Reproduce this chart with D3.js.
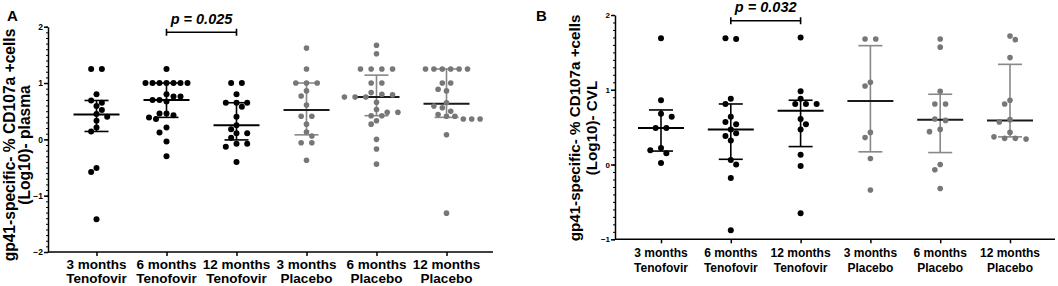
<!DOCTYPE html>
<html>
<head>
<meta charset="utf-8">
<script src="https://cdn.jsdelivr.net/npm/d3@7"></script>
<style>
body { margin: 0; background: #fff; }
svg { display: block; font-family: "Liberation Sans", Arial, sans-serif; font-weight: bold; }
</style>
</head>
<body>
<svg id="chart" width="1058" height="286"></svg>
<script>
"use strict";

// categories
const monthLabels = ["3 months", "6 months", "12 months", "3 months", "6 months", "12 months"];
const armLabels = ["Tenofovir", "Tenofovir", "Tenofovir", "Placebo", "Placebo", "Placebo"];
const isPlacebo = [false, false, false, true, true, true];

// panel A - plasma (log10 % CD107a+ cells)
const plasma3mTen = [1.25, 1.25, 0.80, 0.69, 0.65, 0.59, 0.52, 0.45, 0.40, 0.33, 0.21, 0.14, -0.51, -0.58, -1.42];
const plasma6mTen = [1.25, 1.00, 1.00, 1.00, 1.00, 1.00, 1.00, 1.00, 0.80, 0.76, 0.76, 0.70, 0.70, 0.67,
                     0.46, 0.46, 0.43, 0.39, 0.36, 0.21, 0.12, -0.04, -0.30];
const plasma12mTen = [1.00, 1.00, 0.80, 0.65, 0.65, 0.65, 0.58, 0.40, 0.25, 0.18, 0.11, 0.11, 0.03,
                      -0.08, -0.08, -0.13, -0.40];
const plasma3mPla = [1.62, 1.25, 1.00, 1.00, 1.00, 0.86, 0.77, 0.61, 0.41, 0.41, 0.27, 0.13, 0.06,
                     -0.06, -0.06, -0.37];
const plasma6mPla = [1.67, 1.52, 1.25, 1.25, 1.25, 1.25, 1.00, 1.00, 0.83, 0.80, 0.79, 0.75, 0.75, 0.75,
                     0.66, 0.53, 0.48, 0.48, 0.42, 0.42, 0.33, 0.27, 0.00, -0.17, -0.44];
const plasma12mPla = [1.25, 1.25, 1.25, 1.25, 1.25, 1.25, 1.00, 1.00, 0.89, 0.86, 0.65, 0.59, 0.56,
                      0.50, 0.44, 0.41, 0.41, 0.36, 0.36, 0.36, 0.08, -1.31];
const plasmaMedian = [0.44, 0.70, 0.25, 0.52, 0.75, 0.63];
const plasmaQ1 = [0.14, 0.39, -0.01, 0.08, 0.42, 0.39];
const plasmaQ3 = [0.69, 1.00, 0.65, 1.00, 1.14, 1.25];

// panel B - CVL
const cvl3mTen = [1.69, 0.86, 0.68, 0.64, 0.49, 0.49, 0.22, 0.19, 0.15, 0.02];
const cvl6mTen = [1.69, 1.68, 0.88, 0.81, 0.64, 0.57, 0.54, 0.47, 0.42, 0.38, 0.32, 0.06, 0.00, -0.18, -0.88];
const cvl12mTen = [1.70, 0.98, 0.88, 0.81, 0.81, 0.81, 0.61, 0.54, 0.47, 0.13, -0.02, -0.65];
const cvl3mPla = [1.68, 1.68, 1.10, 1.05, 0.43, 0.36, 0.08, -0.34];
const cvl6mPla = [1.68, 1.57, 0.98, 0.81, 0.81, 0.61, 0.59, 0.47, 0.44, 0.00, -0.07, -0.32];
const cvl12mPla = [1.72, 1.67, 1.43, 0.86, 0.81, 0.60, 0.57, 0.43, 0.37, 0.35, 0.35, 0.34];
const cvlMedian = [0.49, 0.47, 0.72, 0.85, 0.60, 0.59];
const cvlQ1 = [0.18, 0.07, 0.24, 0.17, 0.16, 0.37];
const cvlQ3 = [0.73, 0.81, 0.86, 1.59, 0.94, 1.34];

const panels = [
    {
        letter: "A", letterX: 7,
        values: [plasma3mTen, plasma6mTen, plasma12mTen, plasma3mPla, plasma6mPla, plasma12mPla],
        median: plasmaMedian, q1: plasmaQ1, q3: plasmaQ3,
        yTicks: [-2, -1, 0, 1, 2], yDomain: [-2, 2],
        left: 48, right: 493, top: 26.7, bottom: 252,
        firstX: 96.5, lastX: 446.5,
        title: ["gp41-specific- % CD107a +cells", "(Log10)- plasma"],
        titleX: [14.5, 30], titleY: 145, titleSize: 15.6, labelSize: 13.5, tickSize: 8.5,
        labelY: 269, labelGap: 14,
        pText: "p = 0.025", pY: 24, bracketY: 32.3, pSize: 14.5
    },
    {
        letter: "B", letterX: 536,
        values: [cvl3mTen, cvl6mTen, cvl12mTen, cvl3mPla, cvl6mPla, cvl12mPla],
        median: cvlMedian, q1: cvlQ1, q3: cvlQ3,
        yTicks: [-1, 0, 1, 2], yDomain: [-1, 2],
        left: 615, right: 1055, top: 15, bottom: 239.3,
        firstX: 661, lastX: 1010,
        title: ["gp41-specific- % CD107a +cells", "(Log10)- CVL"],
        titleX: [580, 597], titleY: 128, titleSize: 15.2, labelSize: 12, tickSize: 8,
        labelY: 257, labelGap: 14.5,
        pText: "p = 0.032", pY: 11.7, bracketY: 20.7, pSize: 14.5
    }
];

const svg = d3.select("#chart");

// simple beeswarm: tied values form symmetric rows, rows shift sideways to avoid overlap
function swarm(values, yScale, cx) {
    const sorted = values.slice().sort((a, b) => b - a);
    const rows = [];
    sorted.forEach(v => {
        const last = rows[rows.length - 1];
        if (last && Math.abs(yScale(last[0]) - yScale(v)) < 2) last.push(v);
        else rows.push([v]);
    });
    const maxRow = d3.max(rows, r => r.length);
    const step = maxRow > 1 ? Math.min(10.7, 42 / (maxRow - 1)) : 10.7;
    const half = step / 2;
    const minDist = 6.3;
    const placed = [];
    rows.forEach((row, ri) => {
        for (let k = 0; k < 60; k++) {
            const side = (k % 2 === 1) === (ri % 2 === 0) ? -1 : 1;
            const c = k === 0 ? 0 : Math.ceil(k / 2) * side;
            const pts = row.map((v, i) => ({
                v: v,
                x: cx + c * half + (i - (row.length - 1) / 2) * step,
                y: yScale(v)
            }));
            const ok = pts.every(p => placed.every(q => Math.hypot(p.x - q.x, p.y - q.y) >= minDist));
            if (ok) { placed.push(...pts); break; }
        }
    });
    return placed;
}

panels.forEach(function(p) {
    const g = svg.append("g");
    const y = d3.scaleLinear().domain(p.yDomain).range([p.bottom, p.top]);
    const x = d3.scalePoint().domain(d3.range(6)).range([p.firstX, p.lastX]);

    // minor y ticks
    const minor = d3.range(p.yDomain[0] * 10, p.yDomain[1] * 10 + 1).map(d => d / 10);
    g.append("g")
        .attr("transform", `translate(${p.left},0)`)
        .call(d3.axisLeft(y).tickValues(minor).tickSize(2).tickFormat(""))
        .call(a => a.select(".domain").remove())
        .selectAll("line").attr("stroke", "#000").attr("stroke-width", 1);

    // major y axis
    const yAxis = g.append("g")
        .attr("transform", `translate(${p.left},0)`)
        .call(d3.axisLeft(y).tickValues(p.yTicks).tickSize(4).tickSizeOuter(0).tickFormat(d3.format("d")));
    yAxis.select(".domain").attr("stroke", "#000").attr("stroke-width", 1.5);
    yAxis.selectAll(".tick line").attr("stroke", "#000").attr("stroke-width", 1.5);
    yAxis.selectAll(".tick text")
        .attr("x", -5)
        .attr("font-family", "Liberation Sans, Arial, sans-serif")
        .attr("font-weight", "bold")
        .attr("font-size", p.tickSize)
        .attr("fill", "#000");

    // x axis
    const xAxis = g.append("g")
        .attr("transform", `translate(0,${p.bottom})`)
        .call(d3.axisBottom(x).tickSize(4).tickSizeOuter(0).tickFormat(""));
    xAxis.select(".domain")
        .attr("d", `M${p.left},0H${p.right}`)
        .attr("stroke", "#000").attr("stroke-width", 1.5);
    xAxis.selectAll(".tick line").attr("stroke", "#000").attr("stroke-width", 1.5);

    // category labels
    const labels = g.append("g").selectAll("text")
        .data(d3.range(6))
        .join("text")
        .attr("text-anchor", "middle")
        .attr("font-size", p.labelSize)
        .attr("fill", "#000");
    labels.append("tspan")
        .attr("x", i => x(i))
        .attr("y", p.labelY)
        .text(i => monthLabels[i]);
    labels.append("tspan")
        .attr("x", i => x(i))
        .attr("y", p.labelY + p.labelGap)
        .text(i => armLabels[i]);

    // y title
    p.title.forEach((line, li) => {
        g.append("text")
            .attr("transform", `translate(${p.titleX[li]},${p.titleY}) rotate(-90)`)
            .attr("text-anchor", "middle")
            .attr("font-size", p.titleSize)
            .attr("fill", "#000")
            .text(line);
    });

    // panel letter
    g.append("text")
        .attr("x", p.letterX).attr("y", 20.5)
        .attr("font-size", 15)
        .attr("fill", "#000")
        .text(p.letter);

    // median and interquartile bars
    const bars = g.append("g").selectAll("g")
        .data(d3.range(6))
        .join("g");
    bars.append("line")
        .attr("x1", i => x(i)).attr("x2", i => x(i))
        .attr("y1", i => y(p.q1[i])).attr("y2", i => y(p.q3[i]))
        .attr("stroke", i => isPlacebo[i] ? "#888" : "#000")
        .attr("stroke-width", 1.6);
    bars.selectAll("line.cap")
        .data(i => [[i, p.q1[i]], [i, p.q3[i]]])
        .join("line")
        .attr("class", "cap")
        .attr("x1", d => x(d[0]) - 12).attr("x2", d => x(d[0]) + 12)
        .attr("y1", d => y(d[1])).attr("y2", d => y(d[1]))
        .attr("stroke", d => isPlacebo[d[0]] ? "#888" : "#000")
        .attr("stroke-width", 1.6);
    bars.append("line")
        .attr("x1", i => x(i) - 23).attr("x2", i => x(i) + 23)
        .attr("y1", i => y(p.median[i])).attr("y2", i => y(p.median[i]))
        .attr("stroke", i => isPlacebo[i] ? "#1a1a1a" : "#000")
        .attr("stroke-width", 2);

    // dots
    p.values.forEach((vals, i) => {
        g.append("g").selectAll("circle")
            .data(swarm(vals, y, x(i)))
            .join("circle")
            .attr("cx", d => d.x)
            .attr("cy", d => d.y)
            .attr("r", isPlacebo[i] ? 2.8 : 3)
            .attr("fill", isPlacebo[i] ? "#777" : "#000");
    });

    // significance bracket between 6 and 12 months Tenofovir
    const bx1 = x(1), bx2 = x(2);
    g.append("path")
        .attr("d", `M${bx1},${p.bracketY}H${bx2}M${bx1},${p.bracketY - 3.5}V${p.bracketY + 3.5}M${bx2},${p.bracketY - 3.5}V${p.bracketY + 3.5}`)
        .attr("stroke", "#000").attr("stroke-width", 1.6).attr("fill", "none");
    g.append("text")
        .attr("x", (bx1 + bx2) / 2).attr("y", p.pY)
        .attr("text-anchor", "middle")
        .attr("font-size", p.pSize)
        .attr("font-style", "italic")
        .attr("fill", "#000")
        .text(p.pText);
});
</script>
</body>
</html>
